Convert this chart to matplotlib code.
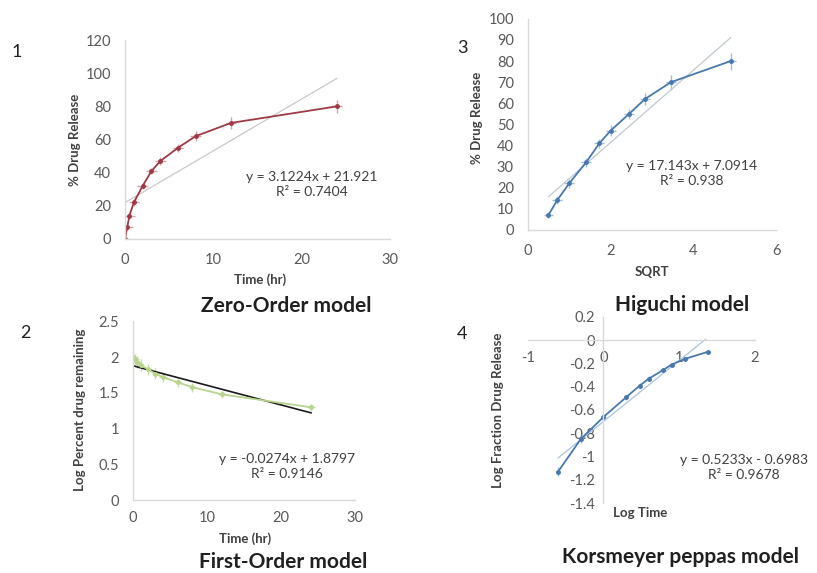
# drug release kinetics - four model fits
import numpy as np
import matplotlib.pyplot as plt

plt.rcParams['font.family'] = ['Lato', 'DejaVu Sans']

time_hr = [0, 0.25, 0.5, 1, 2, 3, 4, 6, 8, 12, 24]
release = [0, 7, 14, 22, 32, 41, 47, 55, 62, 70, 80]
release_err = [0.5, 1.5, 2, 2, 2, 2, 2.5, 2.5, 3, 3.5, 4]

sqrt_t = [0.5, 0.71, 1.0, 1.41, 1.73, 2.0, 2.45, 2.83, 3.46, 4.90]
higuchi_y = [7, 14, 22, 32, 41, 47, 55, 62, 70, 80]
higuchi_err = [1.5, 2, 2, 2, 2, 2.5, 2.5, 3, 3.5, 4]

log_remain = [2.0, 1.97, 1.93, 1.89, 1.83, 1.77, 1.72, 1.65, 1.58, 1.48, 1.30]
log_remain_err = [0.08, 0.08, 0.08, 0.08, 0.08, 0.08, 0.07, 0.06, 0.06, 0.05, 0.05]

log_time = [-0.60, -0.30, 0.0, 0.30, 0.48, 0.60, 0.78, 0.90, 1.08, 1.38]
log_frac = [-1.13, -0.85, -0.66, -0.49, -0.39, -0.33, -0.26, -0.21, -0.16, -0.10]
log_frac_err = [0.04, 0.03, 0.02, 0.02, 0.02, 0.02, 0.015, 0.015, 0.015, 0.01]

# trendline coefficients (slope, intercept)
fit_zero = (3.1224, 21.921)
fit_higuchi = (17.143, 7.0914)
fit_first = (-0.0274, 1.8797)
fit_kp = (0.5233, -0.6983)

grey = '#d9d9d9'
tick_col = '#595959'
lab_kw = dict(ha='center', va='center', fontsize=9.5, fontweight='bold', color='#404040')
title_kw = dict(ha='center', va='center', fontsize=15, fontweight='bold', color='#202020')
eq_kw = dict(ha='center', va='center', fontsize=10, color='#404040', linespacing=1.3)
num_kw = dict(ha='center', va='center', fontsize=13, color='#202020')

fig = plt.figure(figsize=(8.17, 5.73), dpi=100)


def style(ax, xpad=10, ypad=10):
    for s in ['top', 'right']:
        ax.spines[s].set_visible(False)
    for s in ['left', 'bottom']:
        ax.spines[s].set_color(grey)
        ax.spines[s].set_linewidth(1.0)
    ax.tick_params(length=0, labelsize=10.5, colors=tick_col)
    ax.tick_params(axis='x', pad=xpad)
    ax.tick_params(axis='y', pad=ypad)


def trend(ax, coef, x0, x1, **kw):
    xs = np.array([x0, x1])
    ax.plot(xs, coef[0] * xs + coef[1], **kw)


def px(x, y):
    return x / 817, 1 - y / 573


# --- 1: zero order ---
ax1 = fig.add_axes([0.153, 0.583, 0.324, 0.347])
style(ax1)
ax1.errorbar(time_hr, release, yerr=release_err, xerr=0.6, color='#9e3a46',
             ecolor='#d9a0a8', elinewidth=1, marker='o', ms=2.5, lw=1.3)
trend(ax1, fit_zero, 0, 24, color='#c8c8c8', lw=0.9)
ax1.set_xlim(0, 30)
ax1.set_ylim(0, 120)
ax1.set_xticks([0, 10, 20, 30])
ax1.set_yticks(range(0, 121, 20))
ax1.text(0.705, 0.276, 'y = 3.1224x + 21.921\nR² = 0.7404', transform=ax1.transAxes, **eq_kw)
fig.text(*px(75, 140), '% Drug Release', rotation=90, **lab_kw)
fig.text(*px(260, 280), 'Time (hr)', **lab_kw)
fig.text(*px(286, 306), 'Zero-Order model', **title_kw)
fig.text(*px(17, 52), '1', **num_kw)

# --- 3: Higuchi ---
ax3 = fig.add_axes([0.646, 0.599, 0.304, 0.368])
style(ax3)
ax3.errorbar(sqrt_t, higuchi_y, yerr=higuchi_err, xerr=0.12, color='#4a78ac',
             ecolor='#9dbde0', elinewidth=1, marker='o', ms=2.5, lw=1.3)
trend(ax3, fit_higuchi, 0.5, 4.9, color='#c0c8d0', lw=0.9)
ax3.set_xlim(0, 6)
ax3.set_ylim(0, 100)
ax3.set_xticks([0, 2, 4, 6])
ax3.set_yticks(range(0, 101, 10))
ax3.text(0.661, 0.265, 'y = 17.143x + 7.0914\nR² = 0.938', transform=ax3.transAxes, **eq_kw)
fig.text(*px(477, 118), '% Drug Release', rotation=90, **lab_kw)
fig.text(*px(652, 272), 'SQRT', **lab_kw)
fig.text(*px(682, 305), 'Higuchi model', **title_kw)
fig.text(*px(462, 48), '3', **num_kw)

# --- 2: first order ---
ax2 = fig.add_axes([0.163, 0.127, 0.272, 0.312])
style(ax2, xpad=8)
ax2.errorbar(time_hr, log_remain, yerr=log_remain_err, xerr=0.5, color='#b8d490',
             ecolor='#c8dca8', elinewidth=1, marker='o', ms=2.5, lw=1.3)
trend(ax2, fit_first, 0, 24, color='#1a1a1a', lw=1.2)
ax2.set_xlim(0, 30)
ax2.set_ylim(0, 2.5)
ax2.set_xticks([0, 10, 20, 30])
ax2.set_yticks([0, 0.5, 1, 1.5, 2, 2.5])
ax2.set_yticklabels(['0', '0.5', '1', '1.5', '2', '2.5'])
ax2.text(0.69, 0.19, 'y = -0.0274x + 1.8797\nR² = 0.9146', transform=ax2.transAxes, **eq_kw)
fig.text(*px(80, 410), 'Log Percent drug remaining', rotation=90, **lab_kw)
fig.text(*px(245, 539), 'Time (hr)', **lab_kw)
fig.text(*px(283, 562), 'First-Order model', **title_kw)
fig.text(*px(25, 333), '2', **num_kw)

# --- 4: Korsmeyer peppas ---
ax4 = fig.add_axes([0.646, 0.122, 0.278, 0.325])
style(ax4, xpad=8, ypad=6)
ax4.spines['left'].set_position(('data', 0))
ax4.spines['bottom'].set_position(('data', 0))
ax4.errorbar(log_time, log_frac, yerr=log_frac_err, xerr=0.03, color='#4a78ac',
             ecolor='#9dbde0', elinewidth=1, marker='o', ms=2.5, lw=1.3)
trend(ax4, fit_kp, -0.6, 1.35, color='#a8c4e0', lw=0.9)
ax4.set_xlim(-1, 2)
ax4.set_ylim(-1.4, 0.2)
ax4.set_xticks([-1, 0, 1, 2])
ax4.set_yticks([0.2, 0, -0.2, -0.4, -0.6, -0.8, -1, -1.2, -1.4])
ax4.set_yticklabels(['0.2', '0', '-0.2', '-0.4', '-0.6', '-0.8', '-1', '-1.2', '-1.4'])
ax4.set_xticklabels(['-1', '0', '1', '2'])
ax4.text(0.95, 0.19, 'y = 0.5233x - 0.6983\nR² = 0.9678', transform=ax4.transAxes, **eq_kw)
fig.text(*px(498, 410), 'Log Fraction Drug Release', rotation=90, **lab_kw)
fig.text(*px(640, 513), 'Log Time', **lab_kw)
fig.text(*px(681, 557), 'Korsmeyer peppas model', **title_kw)
fig.text(*px(462, 334), '4', **num_kw)

fig.savefig('out.png', dpi=100)
